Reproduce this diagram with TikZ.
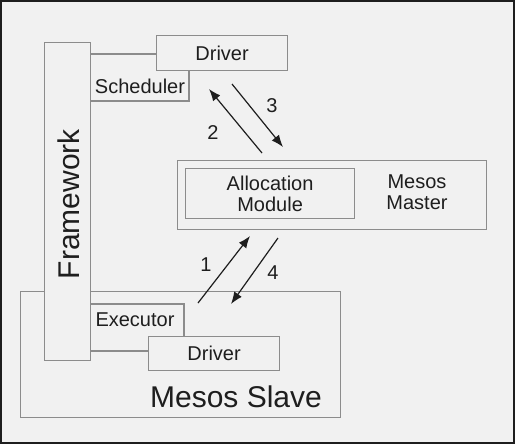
\documentclass[tikz,border=0pt]{standalone}
\usepackage{fontspec}
\setmainfont{Liberation Sans}
\usetikzlibrary{arrows.meta}
\tikzset{>=latex}
\definecolor{boxgray}{HTML}{8C8C8C}
\definecolor{paper}{HTML}{F1F1F1}
\definecolor{ink}{HTML}{1E1E1E}
\tikzset{
  box/.style={draw=boxgray, line width=0.9pt, fill=paper, inner sep=0pt},
  small/.style={font=\fontsize{15}{17}\selectfont, text=ink},
  big/.style={font=\fontsize{22.5}{26}\selectfont, text=ink},
  msg/.style={-{Latex[length=9pt,width=7pt]}, draw=ink, line width=0.9pt},
}

\begin{document}
\begin{tikzpicture}[x=0.75pt,y=-0.75pt]
		\useasboundingbox (0,0) rectangle (515,444);
		\draw[fill=paper, draw=ink, line width=1.5pt] (1,1) rectangle (514,443);
		% slave and framework
		\node[box, anchor=north west, minimum width=240pt, minimum height=94.5pt] (slave) at (20,291) {};
		\node[box, anchor=north west, minimum width=34.5pt, minimum height=238.5pt] (framework) at (44,42) {};
		\node[big, rotate=90] (frameworktext) at (69,204) {Framework};
		\node[big] (slavetext) at (236,397) {Mesos Slave};
		% scheduler side
		\node[box, small, anchor=north west, minimum width=98.25pt, minimum height=26.25pt] (topdriver) at (156,35) {Driver};
		\draw[boxgray, line width=0.9pt] (framework.north east |- 0,54) -- (topdriver.west |- 0,54);
		\draw[boxgray, line width=0.9pt] (topdriver.south west -| 189,0) -- (189,101) -- (framework.east |- 0,101);
		\node[small] (scheduler) at (140,86) {Scheduler};
		% executor side
		\node[box, small, anchor=north west, minimum width=98.25pt, minimum height=25.5pt] (botdriver) at (148,336) {Driver};
		\draw[boxgray, line width=0.9pt] (framework.east |- 0,304) -- (184,304) -- (botdriver.north -| 184,0);
		\draw[boxgray, line width=0.9pt] (framework.east |- 0,351) -- (botdriver.west |- 0,351);
		\node[small] (executor) at (135,320) {Executor};
		% master
		\node[box, anchor=north west, minimum width=231.75pt, minimum height=51.75pt] (master) at (177,160) {};
		\node[box, small, anchor=north west, minimum width=126.75pt, minimum height=37.5pt, align=center] (alloc) at (185,168) {Allocation\\[-1pt]Module};
		\node[small, align=center] (mastertext) at (417,192) {Mesos\\[-1pt]Master};
		% messages
		\coordinate (s2) at (262,153); \coordinate (e2) at (209,89);
		\coordinate (s3) at (232,84);  \coordinate (e3) at (283,147);
		\coordinate (s1) at (198,303); \coordinate (e1) at (250,236);
		\coordinate (s4) at (278,238); \coordinate (e4) at (231,304);
		\draw[msg] (s2) -- (e2);
		\draw[msg] (s3) -- (e3);
		\draw[msg] (s1) -- (e1);
		\draw[msg] (s4) -- (e4);
		\node[small] (l2) at (213,133) {2};
		\node[small] (l3) at (272,106) {3};
		\node[small] (l1) at (206,265) {1};
		\node[small] (l4) at (273,273) {4};
	\end{tikzpicture}
\end{document}
